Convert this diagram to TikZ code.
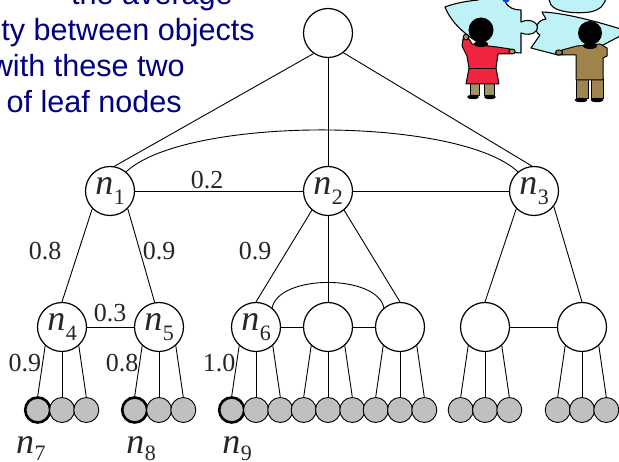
\documentclass[tikz,border=0pt]{standalone}
\usepackage{fontspec}
\setmainfont{Liberation Serif}
\newfontfamily\slidefont{Liberation Sans}
\definecolor{leafgray}{RGB}{192,192,192}
\definecolor{slideblue}{RGB}{0,0,128}
\definecolor{puzzlecyan}{RGB}{190,242,246}
\definecolor{dressred}{RGB}{240,36,60}
\definecolor{khaki}{RGB}{158,148,100}
\definecolor{suitbrown}{RGB}{160,132,76}
% node label: italic n with a lowered index
\newcommand\nlbl[1]{{\fontsize{36}{36}\selectfont\itshape n}\kern0.5pt\raisebox{-10pt}{\fontsize{22}{22}\selectfont #1}}
% leaf label: same, with a slightly less lowered index
\newcommand\leafname[1]{{\fontsize{36}{36}\selectfont\itshape n}\kern0.5pt\raisebox{-7pt}{\fontsize{22}{22}\selectfont #1}}
\begin{document}
\begin{tikzpicture}[x=1pt,y=-1pt,
  inner/.style={circle,draw,line width=1.2pt,minimum size=49pt,inner sep=0pt,fill=white,text=black!85},
  leaf/.style={circle,draw,line width=0.9pt,fill=leafgray,minimum size=25pt,inner sep=0pt},
  seed/.style={leaf,line width=2.6pt},
  edge/.style={line width=0.9pt},
  wt/.style={font=\fontsize{26}{26}\selectfont,text=black!85,inner sep=0pt},
  leaflbl/.style={text=black!85,inner sep=0pt},
  slide/.style={font=\slidefont\fontsize{30.6}{30.6}\selectfont,text=slideblue,inner sep=0pt,anchor=base east},
  puzzle/.style={draw,line width=1.1pt,fill=puzzlecyan,line join=round},
  outl/.style={draw,line width=1pt,line join=round}]
\useasboundingbox (0,0) rectangle (619,462);
\clip (0,0) rectangle (619,462);
\fill[white] (0,0) rectangle (619,462);

% caption lines
\node[slide] (t1) at (233,5) {– the average};
\node[slide] (t2) at (255,41) {ty between objects};
\node[slide] (t3) at (185,77) {with these two};
\node[slide] (t4) at (182,113) {of leaf nodes};

% tree nodes
\node[inner] (root) at (328,33) {};
\node[inner] (n1) at (110,191) {\nlbl{1}};
\node[inner] (n2) at (328,191) {\nlbl{2}};
\node[inner] (n3) at (534,191) {\nlbl{3}};
\node[inner] (n4) at (62,327) {\nlbl{4}};
\node[inner] (n5) at (159,327) {\nlbl{5}};
\node[inner] (n6) at (256,327) {\nlbl{6}};
\node[inner] (c2) at (328,327) {};
\node[inner] (c3) at (400,327) {};
\node[inner] (d1) at (485,327) {};
\node[inner] (d2) at (582,327) {};

% leaves, three under each lower node
\foreach \p/\s in {n4/seed,n5/seed,n6/seed,c2/leaf,c3/leaf,d1/leaf,d2/leaf}{
  \path (\p) ++(-24.3,83) node[\s] (\p-a) {};
  \path (\p) ++(0,83) node[leaf] (\p-b) {};
  \path (\p) ++(24.3,83) node[leaf] (\p-c) {};
  \draw[edge] (\p.-132) -- (\p-a.north);
  \draw[edge] (\p.south) -- (\p-b.north);
  \draw[edge] (\p.-48) -- (\p-c.north);
}

% tree edges
\draw[edge] (root.-125) -- (n1.80);
\draw[edge] (root.south) -- (n2.north);
\draw[edge] (root.-52) -- (n3.95);
\draw[edge] (n1) -- (n2);
\draw[edge] (n2) -- (n3);
\draw[edge] (n1.50) .. controls (186,116) and (458,116) .. (n3.130);
\draw[edge] (n1.-135) -- (n4.north);
\draw[edge] (n1.-45) -- (n5.100);
\draw[edge] (n2.-130) -- (n6.north);
\draw[edge] (n2.south) -- (c2.north);
\draw[edge] (n2.-50) -- (c3.north);
\draw[edge] (n3.-135) -- (d1.north);
\draw[edge] (n3.-38) -- (d2.north);
\draw[edge] (n4) -- (n5);
\draw[edge] (n6) -- (c2);
\draw[edge] (c2) -- (c3);
\draw[edge] (d1) -- (d2);
\draw[edge] (n6.50) .. controls (279,274) and (377,274) .. (c3.130);

% edge weights
\node[wt] (w12) at (207,180) {0.2};
\node[wt] (w14) at (45,251) {0.8};
\node[wt] (w15) at (159,251) {0.9};
\node[wt] (w26) at (255,251) {0.9};
\node[wt] (w45) at (110,313) {0.3};
\node[wt] (w47) at (25,363) {0.9};
\node[wt] (w58) at (122,363) {0.8};
\node[wt] (w69) at (219,363) {1.0};

% names of the highlighted leaves
\node[leaflbl] (l7) at (31,449) {\leafname{7}};
\node[leaflbl] (l8) at (141,449) {\leafname{8}};
\node[leaflbl] (l9) at (237,449) {\leafname{9}};

% clip art: two people fitting puzzle pieces together
\path[puzzle] (548,-3) -- (551,5) .. controls (556,12) and (575,14) .. (590,12) .. controls (600,10) and (605,5) .. (606,-3) -- cycle;
\path[puzzle] (542,12) .. controls (565,13) and (595,21) .. (624,30) -- (624,34) -- (603,45) .. controls (590,50) and (575,54) .. (558,55) -- (531,48) -- (540,35) .. controls (533,32) and (536,20) .. (546,19) -- cycle;
\path[puzzle] (445,7) .. controls (455,3) and (468,1) .. (478,0) .. controls (480,-4) and (502,-4) .. (505,1) .. controls (508,8) and (514,10) .. (521,10) -- (521,22) .. controls (532,17) and (541,25) .. (536,31) .. controls (533,35) and (526,35) .. (521,33) -- (521,53) .. controls (500,52) and (478,45) .. (465,33) .. controls (455,25) and (448,15) .. (445,7) -- cycle;
\fill[blue!75!cyan] (506,0) ellipse [x radius=3.5, y radius=2.5];

% person in red
\path[outl,fill=khaki] (470,82) rectangle (479,96);
\path[outl,fill=khaki] (484,82) rectangle (494,96);
\fill[black] (473,97) ellipse [x radius=6, y radius=2.2];
\fill[black] (490,97) ellipse [x radius=6, y radius=2.2];
\path[outl,fill=dressred] (462,46) -- (463,39) -- (469,39) -- (472,44) -- (497,47) -- (510,49) -- (510,54) -- (498,54) -- (496,68) -- (499,84) -- (466,84) -- (469,68) -- (467,56) -- cycle;
\draw[line width=0.8pt] (469,68) -- (496,68);
\path[outl,fill=khaki] (466,37) circle [radius=2.8];
\path[outl,fill=khaki] (512,51.5) ellipse [x radius=3.2, y radius=2.5];
\fill[black] (481,30) circle [radius=12.5];
\fill[black] (481,44) ellipse [x radius=7, y radius=3];

% person in brown
\path[outl,fill=suitbrown] (576,79) rectangle (588,99);
\path[outl,fill=suitbrown] (591,79) rectangle (603,99);
\fill[black] (581,100) ellipse [x radius=6.5, y radius=2.2];
\fill[black] (597,100) ellipse [x radius=6.5, y radius=2.2];
\path[outl,fill=suitbrown] (577,46) -- (562,50) -- (562,55) -- (576,55) -- (576,80) -- (603,80) -- (603,58) -- (607,56) -- (607,48) -- (600,44) -- cycle;
\path[outl,fill=suitbrown] (559,52.5) ellipse [x radius=3.5, y radius=2.6];
\fill[black] (590,33) circle [radius=12];
\fill[black] (590,46) ellipse [x radius=7, y radius=3];
\end{tikzpicture}
\end{document}
